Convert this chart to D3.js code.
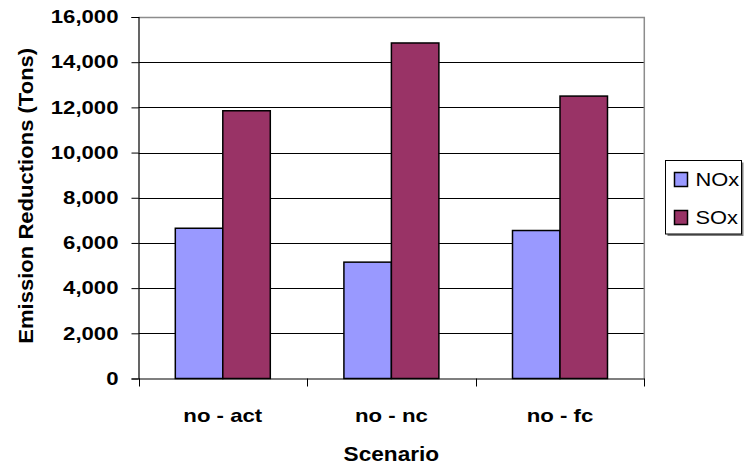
<!DOCTYPE html>
<html>
<head>
<meta charset="utf-8">
<script src="https://cdn.jsdelivr.net/npm/d3@7"></script>
<style>
  html, body { margin: 0; padding: 0; background: #fff; }
  svg { display: block; }
  text { font-family: "Liberation Sans", Arial, sans-serif; }
</style>
</head>
<body>
<svg id="chart" width="745" height="467"></svg>
<script>
const categories = ["no - act", "no - nc", "no - fc"];
const seriesNames = ["NOx", "SOx"];
const noxValues = [6650, 5150, 6550];
const soxValues = [11850, 14850, 12500];
const yTicks = [0, 2000, 4000, 6000, 8000, 10000, 12000, 14000, 16000];
const colors = ["#9999FF", "#993366"];

const svg = d3.select("#chart");
const pLeft = 138.5, pRight = 644.3, pTop = 17, pBottom = 378.5;

// stretch text horizontally (reference uses a wide rendering of Arial)
function widen(sel, factor) {
  sel.each(function () {
    const w = this.getComputedTextLength();
    d3.select(this).attr("textLength", w * factor).attr("lengthAdjust", "spacingAndGlyphs");
  });
}

const x0 = d3.scaleBand().domain(categories).range([pLeft, pRight]).padding(0);
const x1 = d3.scaleBand().domain(seriesNames).range([0, x0.bandwidth()]).paddingInner(0).paddingOuter(0.775);
const y = d3.scaleLinear().domain([0, 16000]).range([pBottom, pTop]);

const data = categories.map((c, i) => ({ cat: c, values: [noxValues[i], soxValues[i]] }));

// gridlines
svg.append("g").selectAll("line").data(yTicks.filter(d => d > 0)).join("line")
  .attr("x1", pLeft).attr("x2", pRight)
  .attr("y1", d => Math.round(y(d)) + 0.5).attr("y2", d => Math.round(y(d)) + 0.5)
  .attr("stroke", "#000").attr("stroke-width", 1);

// plot border top/right (gray)
svg.append("path")
  .attr("d", `M${pLeft},${Math.round(pTop)+0.5}H${pRight}V${pBottom}`)
  .attr("fill", "none").attr("stroke", "#8c8c8c").attr("stroke-width", 1.5);

// bars
const groups = svg.append("g").selectAll("g").data(data).join("g")
  .attr("transform", d => `translate(${x0(d.cat)},0)`);
groups.selectAll("rect").data(d => d.values.map((v, i) => ({ s: seriesNames[i], v, i }))).join("rect")
  .attr("x", d => x1(d.s))
  .attr("y", d => y(d.v))
  .attr("width", x1.bandwidth())
  .attr("height", d => y(0) - y(d.v))
  .attr("fill", d => colors[d.i])
  .attr("stroke", "#000").attr("stroke-width", 1.5);

// y axis
const yAxis = d3.axisLeft(y).tickValues(yTicks).tickFormat(d3.format(",")).tickSize(7).tickPadding(13);
const gy = svg.append("g").attr("transform", `translate(${pLeft},0)`).call(yAxis);
gy.select(".domain").attr("stroke", "#000").attr("stroke-width", 1.2);
gy.selectAll(".tick line").attr("stroke", "#000");
gy.selectAll("text").attr("font-family", "Liberation Sans").attr("font-weight", "bold")
  .attr("font-size", "18px").attr("fill", "#000").call(widen, 1.23);

// x axis
const xAxis = d3.axisBottom(x0).tickSize(0).tickPadding(30);
const gx = svg.append("g").attr("transform", `translate(0,${pBottom})`).call(xAxis);
gx.select(".domain").attr("stroke", "#000").attr("stroke-width", 1.2);
gx.selectAll("text").attr("font-family", "Liberation Sans").attr("font-weight", "bold")
  .attr("font-size", "18.5px").attr("fill", "#000").call(widen, 1.2);
// category separator ticks
const bounds = [pLeft].concat(categories.map(c => x0(c) + x0.bandwidth()));
gx.append("g").selectAll("line").data(bounds).join("line")
  .attr("x1", d => Math.round(d) + 0.5).attr("x2", d => Math.round(d) + 0.5)
  .attr("y1", 0).attr("y2", 8).attr("stroke", "#000");

// axis titles
svg.append("text")
  .attr("x", (pLeft + pRight) / 2).attr("y", 461)
  .attr("text-anchor", "middle")
  .attr("font-weight", "bold").attr("font-size", "19.5px")
  .text("Scenario").call(widen, 1.16);
svg.append("text")
  .attr("transform", `translate(33,${(pTop + pBottom) / 2 - 2}) rotate(-90)`)
  .attr("text-anchor", "middle")
  .attr("font-weight", "bold").attr("font-size", "19.5px")
  .text("Emission Reductions (Tons)").call(widen, 1.13);

// legend
const lg = svg.append("g");
lg.append("rect").attr("x", 667.5).attr("y", 162.5).attr("width", 76).attr("height", 73.5).attr("fill", "#808080");
lg.append("rect").attr("x", 665.5).attr("y", 160.5).attr("width", 76).attr("height", 73.5)
  .attr("fill", "#fff").attr("stroke", "#000").attr("stroke-width", 1);
const items = lg.selectAll("g.item").data(seriesNames).join("g").attr("class", "item")
  .attr("transform", (d, i) => `translate(0,${i * 38})`);
items.append("rect").attr("x", 674.5).attr("y", 172.5).attr("width", 13).attr("height", 14)
  .attr("fill", (d, i) => colors[i]).attr("stroke", "#000").attr("stroke-width", 1.5);
items.append("text").attr("x", 695.5).attr("y", 186)
  .attr("font-size", "18.5px").attr("fill", "#000")
  .text(d => d).call(widen, 1.18);
</script>
</body>
</html>
